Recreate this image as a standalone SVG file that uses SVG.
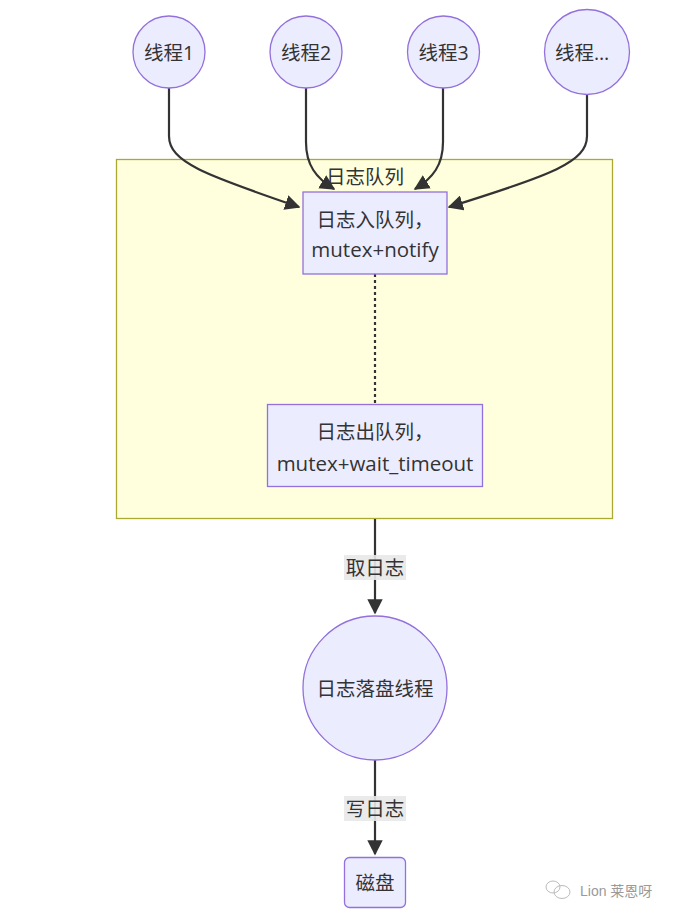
<svg xmlns="http://www.w3.org/2000/svg" width="691" height="921" viewBox="0 0 691 921">
<style>
  .node { fill: #ececff; stroke: #9370db; stroke-width: 1.3; }
  .cluster { fill: #ffffde; stroke: #aaaa33; stroke-width: 1.3; }
  .t { font-family: "Open Sans", "Noto Sans CJK SC", sans-serif; font-size: 19.5px; fill: #333; text-anchor: middle; dominant-baseline: central; }
  .lat { font-size: 20.5px; }
  .edge { fill: none; stroke: #333; stroke-width: 2.2; }
  .dot { fill: none; stroke: #333; stroke-width: 2.2; stroke-dasharray: 3 3; }
  .lbg { fill: #e8e8e8; opacity: 0.9; }
  .wm { font-family: "Liberation Sans", "Noto Sans CJK SC", sans-serif; font-size: 14px; fill: #9a9a9a; }
</style>
<defs>
  <marker id="arrow" viewBox="0 0 10 10" refX="9" refY="5" markerWidth="7" markerHeight="7" markerUnits="strokeWidth" orient="auto">
    <path d="M0,0 L10,5 L0,10 z" fill="#333"/>
  </marker>
</defs>
<rect width="691" height="921" fill="#ffffff"/>

<g id="cluster-queue">
  <rect class="cluster" x="116.5" y="159.5" width="496" height="359"/>
  <text class="t" x="365" y="176">日志队列</text>
</g>

<g id="connectors">
  <path class="edge" d="M169,88 L169,136 C169,162 205,175 299,207" marker-end="url(#arrow)"/>
  <path class="edge" d="M306,88 L306,142 C306,165 316,178 334,189" marker-end="url(#arrow)"/>
  <path class="edge" d="M443,88 L443,142 C443,165 433,178 415,189" marker-end="url(#arrow)"/>
  <path class="edge" d="M587,94 L587,136 C587,162 552,175 449,207" marker-end="url(#arrow)"/>
  <path class="dot" d="M375,274 L375,404"/>
  <path class="edge" d="M375,519 L375,613" marker-end="url(#arrow)"/>
  <path class="edge" d="M375,760 L375,854" marker-end="url(#arrow)"/>
  <g id="label-take">
    <rect class="lbg" x="344" y="555" width="62" height="25"/>
    <text class="t" x="375" y="567">取日志</text>
  </g>
  <g id="label-write">
    <rect class="lbg" x="344" y="796" width="62" height="25"/>
    <text class="t" x="375" y="808">写日志</text>
  </g>
</g>

<g id="thread1">
  <circle class="node" cx="169" cy="52" r="36"/>
  <text class="t" x="169" y="52">线程1</text>
</g>
<g id="thread2">
  <circle class="node" cx="306" cy="52" r="36"/>
  <text class="t" x="306" y="52">线程2</text>
</g>
<g id="thread3">
  <circle class="node" cx="443.5" cy="52" r="36"/>
  <text class="t" x="443.5" y="52">线程3</text>
</g>
<g id="thread-more">
  <circle class="node" cx="587" cy="52" r="42.5"/>
  <text class="t" x="582" y="52">线程…</text>
</g>

<g id="enqueue">
  <rect class="node" x="303" y="192" width="144" height="82"/>
  <text class="t" x="375" y="219">日志入队列，</text>
  <text class="t lat" x="375" y="249">mutex+notify</text>
</g>
<g id="dequeue">
  <rect class="node" x="267.5" y="404.5" width="215" height="82"/>
  <text class="t" x="375" y="431">日志出队列，</text>
  <text class="t lat" x="375" y="463">mutex+wait_timeout</text>
</g>

<g id="flush-thread">
  <circle class="node" cx="375" cy="688" r="72"/>
  <text class="t" x="375" y="688">日志落盘线程</text>
</g>

<g id="disk">
  <rect class="node" x="344.5" y="857.5" width="61" height="50" rx="5"/>
  <text class="t" x="375" y="882">磁盘</text>
</g>

<g id="watermark">
  <ellipse cx="553" cy="887" rx="7" ry="6" fill="none" stroke="#bbb" stroke-width="1"/>
  <ellipse cx="562" cy="892" rx="8" ry="6.5" fill="none" stroke="#bbb" stroke-width="1"/>
  <text class="wm" x="580" y="896">Lion 莱恩呀</text>
</g>
</svg>
